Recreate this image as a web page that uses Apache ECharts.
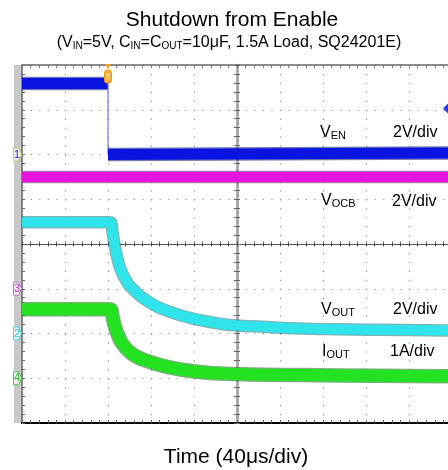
<!DOCTYPE html>
<html><head><meta charset="utf-8">
<script src="https://cdn.jsdelivr.net/npm/echarts/dist/echarts.min.js"></script>
<style>html,body{margin:0;padding:0;background:#fff}#c{width:448px;height:470px}</style>
</head><body><div id="c"></div>
<script>
// ---- data (time in µs, voltages in V, current in A) ----
const venHighT = [0, 80];
const venHighV = [3.17, 3.17];
const venEdgeT = [80, 80];
const venEdgeV = [3.17, 0.0];
const venLowT = [80, 400];
const venLowV = [0.0, 0.07];
const vocbT = [0, 400];
const vocbV = [5.0, 5.0];
const voutT = [0, 82, 84, 86, 91, 98.5, 105, 111.5, 126.5, 148.5, 165.5, 189, 200, 258.5, 330, 400];
const voutV = [4.97, 4.97, 4.6, 4.0, 2.96, 2.23, 1.9, 1.62, 1.18, 0.8, 0.6, 0.4, 0.36, 0.22, 0.17, 0.13];
const ioutT = [0, 82, 84, 86.5, 92.5, 102, 114.5, 136, 161, 189, 258.5, 330, 400];
const ioutV = [1.54, 1.54, 1.4, 1.15, 0.8, 0.55, 0.40, 0.25, 0.15, 0.10, 0.07, 0.055, 0.045];
const trigTime = 80;
const trigLevel = 2.06;
const timeMin = 0, timeMax = 400, timeDiv = 40;
const divMin = -4, divMax = 4;

// ---- per-channel axis ranges (scale per div, ground position in divs) ----
const channels = [
  {name: 'ven', perDiv: 2, ground: 2, color: '#0a14e0', edge: '#000a80', tag: '1', tagText: '#2a2aff', tagLine: '#c8c86a'},
  {name: 'vocb', perDiv: 2, ground: -1, color: '#e414de', edge: '#7a0a78', tag: '3', tagText: '#c830c8', tagLine: '#d070d0'},
  {name: 'vout', perDiv: 2, ground: -2, color: '#30e4ec', edge: '#127a80', tag: '2', tagText: '#20c8e0', tagLine: '#40d8ee'},
  {name: 'iout', perDiv: 1, ground: -3, color: '#22e222', edge: '#0e6e0e', tag: '4', tagText: '#30b830', tagLine: '#50c850'}
];

const FONT = '"Liberation Sans", Arial, sans-serif';
const chart = echarts.init(document.getElementById('c'), null, {renderer: 'canvas'});
const pairs = (t, v) => t.map((x, i) => [x, v[i]]);

const baseX = {type: 'value', min: timeMin, max: timeMax, interval: timeDiv, axisLabel: {show: false}, splitLine: {show: false}};
const baseDiv = {type: 'value', min: divMin, max: divMax, interval: 1, axisLabel: {show: false}, splitLine: {show: false}};

const xAxes = [
  Object.assign({}, baseX, {position: 'bottom', axisLine: {onZero: false, lineStyle: {color: '#000', width: 2}},
    axisTick: {show: true, inside: true, length: 3, lineStyle: {color: '#666'}},
    minorTick: {show: true, splitNumber: 5, length: 3, lineStyle: {color: '#666'}},
    splitLine: {show: true, lineStyle: {color: '#8c8c8c', width: 1.2, type: [1.2, 7.75]}}}),
  Object.assign({}, baseX, {position: 'top', axisLine: {onZero: false, lineStyle: {color: '#666', width: 1.5}},
    axisTick: {show: true, inside: true, length: 3, lineStyle: {color: '#777'}},
    minorTick: {show: true, splitNumber: 5, length: 3, lineStyle: {color: '#777'}}}),
  Object.assign({}, baseX, {position: 'bottom', axisLine: {onZero: true, onZeroAxisIndex: 0, lineStyle: {color: '#555', width: 1.2}},
    axisTick: {show: true, inside: true, length: 2.5, lineStyle: {color: '#555'}},
    minorTick: {show: true, splitNumber: 5, length: 2.5, lineStyle: {color: '#555'}}}),
  Object.assign({}, baseX, {position: 'bottom', axisLine: {onZero: true, onZeroAxisIndex: 0, lineStyle: {color: '#555', width: 1.2}},
    axisTick: {show: true, inside: false, length: 2.5, lineStyle: {color: '#555'}},
    minorTick: {show: true, splitNumber: 5, length: 2.5, lineStyle: {color: '#555'}}}),
  {type: 'value', min: -(timeMax - timeMin) / 2, max: (timeMax - timeMin) / 2, show: false}
];

const yAxes = [
  Object.assign({}, baseDiv, {position: 'left', axisLine: {onZero: false, lineStyle: {color: '#666', width: 1.5}},
    axisTick: {show: true, inside: true, length: 3, lineStyle: {color: '#666'}},
    minorTick: {show: true, splitNumber: 5, length: 3, lineStyle: {color: '#666'}},
    splitLine: {show: true, lineStyle: {color: '#8c8c8c', width: 1.2, type: [1.2, 7.4]}}}),
  Object.assign({}, baseDiv, {position: 'left', axisLine: {onZero: true, onZeroAxisIndex: 4, lineStyle: {color: '#a8a8a8', width: 2.5}},
    axisTick: {show: true, inside: true, length: 3, lineStyle: {color: '#666'}},
    minorTick: {show: true, splitNumber: 5, length: 3, lineStyle: {color: '#666'}}}),
  Object.assign({}, baseDiv, {position: 'left', axisLine: {onZero: true, onZeroAxisIndex: 4, lineStyle: {color: '#a8a8a8', width: 2.5}},
    axisTick: {show: true, inside: false, length: 3, lineStyle: {color: '#666'}},
    minorTick: {show: true, splitNumber: 5, length: 3, lineStyle: {color: '#666'}}})
];
channels.forEach(c => {
  yAxes.push({type: 'value', show: false, min: (divMin - c.ground) * c.perDiv, max: (divMax - c.ground) * c.perDiv});
});
const yIdx = {ven: 3, vocb: 4, vout: 5, iout: 6};
const chan = n => channels.find(c => c.name === n);

function line(data, ch, width, color, smooth, opacity) {
  return {type: 'line', xAxisIndex: 0, yAxisIndex: yIdx[ch], data: data, showSymbol: false, symbol: 'none',
    smooth: smooth || false, silent: true, animation: false,
    lineStyle: {width: width, color: color, opacity: opacity == null ? 1 : opacity, cap: 'butt', join: 'round'}};
}
// a band = darker noisy edge underneath + bright core
function band(data, ch, width, smooth) {
  const c = chan(ch);
  return [line(data, ch, width + 1.5, c.edge, smooth, 0.55), line(data, ch, width - 1, c.color, smooth)];
}

const option = {
  animation: false,
  backgroundColor: '#fff',
  grid: {left: 22, top: 65, width: 430, height: 358, outerBoundsMode: 'none', containLabel: false},
  xAxis: xAxes,
  yAxis: yAxes,
  series: [].concat(
    band(pairs(vocbT, vocbV), 'vocb', 11),
    band(pairs(venHighT, venHighV), 'ven', 12),
    [line(pairs(venEdgeT, venEdgeV), 'ven', 1.2, '#6e78ee')],
    band(pairs(venLowT, venLowV), 'ven', 12),
    band(pairs(voutT, voutV), 'vout', 11, 0.35),
    band(pairs(ioutT, ioutV), 'iout', 13, 0.35)
  )
};
chart.setOption(option);

// ---- decorations positioned through the axes ----
const gx0 = chart.convertToPixel({xAxisIndex: 0}, timeMin);
const gx1 = chart.convertToPixel({xAxisIndex: 0}, timeMax);
const gy0 = chart.convertToPixel({yAxisIndex: 0}, divMax);
const gy1 = chart.convertToPixel({yAxisIndex: 0}, divMin);
const graphics = [];
graphics.push({type: 'rect', z: 0, shape: {x: gx0 - 8, y: gy0, width: 8, height: gy1 - gy0}, style: {fill: '#c9c9c9'}});

channels.forEach((c, i) => {
  const y = chart.convertToPixel({yAxisIndex: 3 + i}, 0);
  const x0 = gx0 - 8.5;
  graphics.push({type: 'polygon', z: 50, shape: {points: [[x0, y - 6.5], [x0 + 5, y - 6.5], [x0 + 8, y], [x0 + 5, y + 6.5], [x0, y + 6.5]]},
    style: {fill: 'rgba(255,255,255,0.7)', stroke: c.tagLine, lineWidth: 1}});
  graphics.push({type: 'text', z: 51, x: x0 + 3.6, y: y, style: {text: c.tag, fill: c.tagText, font: '11px ' + FONT, textAlign: 'center', textVerticalAlign: 'middle'}});
});

// trigger position marker
const tx = chart.convertToPixel({xAxisIndex: 0}, trigTime);
graphics.push({type: 'polygon', z: 60, shape: {points: [[tx - 3, gy0 - 1], [tx + 3, gy0 - 1], [tx, gy0 + 4]]}, style: {fill: '#f5a020'}});
graphics.push({type: 'rect', z: 60, shape: {x: tx - 3.5, y: gy0 + 5, width: 7, height: 13, r: 2.5}, style: {fill: '#f7b040', stroke: '#f09a10', lineWidth: 1}});
graphics.push({type: 'text', z: 61, x: tx, y: gy0 + 11.5, style: {text: 'T', fill: '#fde6b8', font: 'bold 8px ' + FONT, textAlign: 'center', textVerticalAlign: 'middle'}});

// trigger level marker (right edge)
const ty = chart.convertToPixel({yAxisIndex: 3}, trigLevel);
graphics.push({type: 'polygon', z: 60, shape: {points: [[gx1 - 9, ty], [gx1 - 4, ty - 5], [gx1, ty], [gx1 - 4, ty + 5]]}, style: {fill: '#2a3cf0'}});

// texts
const richSub = (main, sub, size, subSize) => ({
  text: main.map((m, i) => '{m|' + m + '}' + (sub[i] ? '{s|' + sub[i] + '}' : '')).join(''),
  rich: {m: {fontSize: size, lineHeight: size + 1, fontFamily: FONT, fill: '#000'},
         s: {fontSize: subSize, lineHeight: subSize + 2, fontFamily: FONT, fill: '#000', verticalAlign: 'bottom'}}
});
function label(x, y, main, sub, size, subSize, align) {
  const st = richSub(main, sub, size, subSize);
  graphics.push({type: 'text', z: 70, x: x, y: y, style: Object.assign(st, {textAlign: align || 'left', textVerticalAlign: 'middle', fill: '#000'})});
}
function plain(x, y, text, size, align) {
  graphics.push({type: 'text', z: 70, x: x, y: y, style: {text: text, font: size + 'px ' + FONT, fill: '#000', textAlign: align || 'left', textVerticalAlign: 'middle'}});
}

plain(232, 20, 'Shutdown from Enable', 21, 'center');
label(229, 43, ['(V', '=5V, C', '=C', '=10μF, 1.5A Load, SQ24201E)'], ['IN', 'IN', 'OUT', ''], 16, 10, 'center');
plain(236, 457, 'Time (40μs/div)', 21, 'center');

label(320, 133, ['V'], ['EN'], 16, 11);
plain(393, 133, '2V/div', 16);
label(321, 201, ['V'], ['OCB'], 16, 11);
plain(392, 202, '2V/div', 16);
label(321, 310, ['V'], ['OUT'], 16, 11);
plain(393, 310, '2V/div', 16);
label(322, 352, ['I'], ['OUT'], 16, 11);
plain(390, 352, '1A/div', 16);

chart.setOption({graphic: graphics});
</script></body></html>
